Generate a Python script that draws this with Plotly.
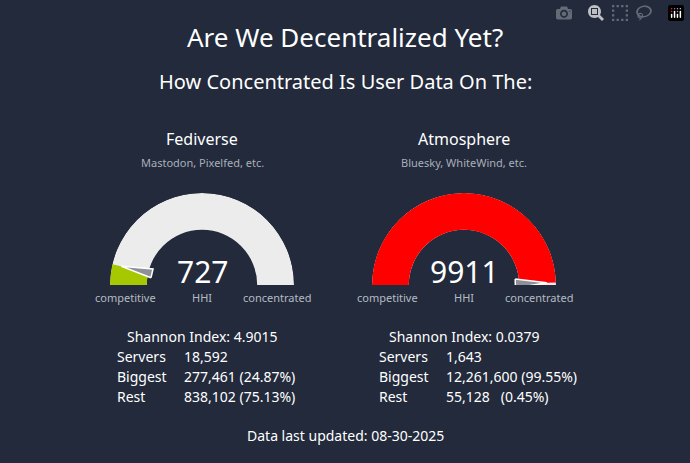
import math
import plotly.graph_objects as go

networks = ["Fediverse", "Atmosphere"]
subtitles = ["Mastodon, Pixelfed, etc.", "Bluesky, WhiteWind, etc."]
hhi = [727, 9911]
shannon = ["4.9015", "0.0379"]
servers = ["18,592", "1,643"]
biggest = ["277,461 (24.87%)", "12,261,600 (99.55%)"]
rest = ["838,102 (75.13%)", "55,128   (0.45%)"]
updated = "08-30-2025"
hhi_max = 10000

bg = "#222a3b"
fills = ["#a6c800", "#ff0000"]
font = "Noto Sans"
W, H = 690, 463

fig = go.Figure()
# gauge placement in pixels: left edge, right edge, center x
gauges = [(110, 294, 202), (372, 556, 464)]
layout_extra = {}
ann = []


def px(x):
    return x / W


def py(y):
    return 1 - y / H


def t(x, y, s, size, color="white", anchor="center"):
    ann.append(dict(x=px(x), y=py(y), text=s, showarrow=False, xref="paper", yref="paper",
                    xanchor=anchor, yanchor="middle",
                    font=dict(family=font, size=size, color=color)))


for i, (x0, x1, cx) in enumerate(gauges):
    pname = "polar" if i == 0 else "polar2"
    ang = 180 * hhi[i] / hhi_max
    fig.add_trace(go.Barpolar(r=[0.4], base=[0.6], theta=[90], width=[180],
                              marker=dict(color="#ececec", line=dict(width=0)),
                              subplot=pname, hoverinfo="skip"))
    fig.add_trace(go.Barpolar(r=[0.4], base=[0.6], theta=[180 - ang / 2], width=[ang],
                              marker=dict(color=fills[i], line=dict(width=0)),
                              subplot=pname, hoverinfo="skip"))
    na = 180 - ang
    fig.add_trace(go.Scatterpolar(r=[0.56, 0.9, 0.56, 0.56],
                                  theta=[na + 5, na, na - 5, na + 5],
                                  mode="lines", fill="toself", fillcolor="#8d9099",
                                  line=dict(color="white", width=1.5),
                                  subplot=pname, hoverinfo="skip"))
    half = (x1 - x0) / 2
    layout_extra[pname] = dict(
        domain=dict(x=[px(x0), px(x1)], y=[py(285), py(285 - half)]),
        sector=[0, 180], bgcolor=bg,
        radialaxis=dict(range=[0, 1], visible=False),
        angularaxis=dict(visible=False, rotation=0, direction="counterclockwise"),
    )

    t(cx, 139, networks[i], 16)
    t(cx, 162, subtitles[i], 11, "#a9afba")
    t(cx, 271, str(hhi[i]), 30)
    t(cx, 297, "HHI", 11, "#b5bac3")
    t(cx - 77, 297, "competitive", 11, "#b5bac3")
    t(cx + 75, 297, "concentrated", 11, "#b5bac3")
    t(cx, 336, "Shannon Index: " + shannon[i], 14)
    lx, vx = cx - 87, cx - 20
    for y, lab, val in [(356, "Servers", servers[i]), (376, "Biggest", biggest[i]), (396, "Rest", rest[i])]:
        t(lx, y, lab, 14, anchor="left")
        t(vx, y, val, 14, anchor="left")

t(W / 2, 37, "Are We Decentralized Yet?", 26)
t(W / 2, 81, "How Concentrated Is User Data On The:", 20)
t(W / 2, 435, "Data last updated: " + updated, 14)

fig.update_layout(width=W, height=H, margin=dict(l=0, r=0, t=0, b=0),
                  paper_bgcolor=bg, plot_bgcolor=bg, showlegend=False,
                  annotations=ann, **layout_extra)
fig.write_html("out.html", post_script="document.body.style.margin='0';")
